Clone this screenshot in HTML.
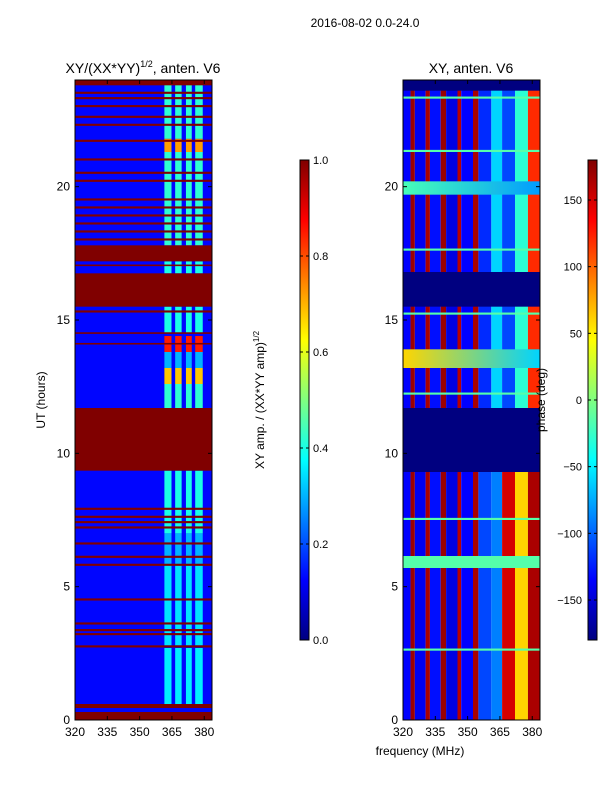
<!DOCTYPE html>
<html><head><meta charset="utf-8">
<style>
html,body{margin:0;padding:0;background:#fff;}
svg{display:block;font-family:"Liberation Sans",sans-serif;}
</style></head>
<body>
<svg id="fig" width="600" height="800" xmlns="http://www.w3.org/2000/svg">
<text x="365" y="27" font-size="12" text-anchor="middle">2016-08-02 0.0-24.0</text>
<g id="left"></g>
<g id="right"></g>
<g id="cb"></g>
<text x="143" y="73" font-size="14" text-anchor="middle">XY/(XX*YY)<tspan dy="-6" font-size="9">1/2</tspan><tspan dy="6">, anten. V6</tspan></text>
<text x="471" y="73" font-size="14" text-anchor="middle">XY, anten. V6</text>
<text transform="translate(45,400) rotate(-90)" font-size="12" text-anchor="middle">UT (hours)</text>
<text transform="translate(264,400) rotate(-90)" font-size="12" text-anchor="middle">XY amp. / (XX*YY amp)<tspan dy="-5" font-size="8">1/2</tspan></text>
<text transform="translate(545,400) rotate(-90)" font-size="12" text-anchor="middle">phase (deg)</text>
<text x="420" y="755" font-size="12" text-anchor="middle">frequency (MHz)</text>
</svg>
<script>
// ---- data ----
const xTicks = [320,335,350,365,380];
const yTicks = [0,5,10,15,20];
const ampTicks = [0.0,0.2,0.4,0.6,0.8,1.0];
const phaseTicks = [-150,-100,-50,0,50,100,150];
// left: red (amp=1) hour bands
const redStart = [0,0.45,2.72,3.18,3.33,3.58,4.48,5.78,6.08,6.58,7.18,7.38,7.58,7.88,9.35,14.08,14.48,15.28,15.5,17.02,17.2,17.98,18.28,18.58,18.88,19.18,19.48,20.18,20.48,20.98,21.68,22.28,22.58,22.98,23.28,23.48,23.8];
const redEnd   = [0.3,0.6,2.8,3.26,3.41,3.66,4.56,5.86,6.16,6.66,7.26,7.46,7.66,7.96,11.7,14.14,14.54,15.36,16.75,17.08,17.8,18.06,18.36,18.66,18.96,19.26,19.56,20.26,20.56,21.06,21.76,22.36,22.66,23.06,23.36,23.56,24];
// left: bright frequency stripes
const stripeLo = [361.5,366.5,371.5,375.8];
const stripeHi = [364.8,369.5,374.2,379.3];
const ampBandStart = [0.6,2.8,5.8,7.0,11.7,12.6,13.2,13.8,14.5,16.75,17.8,21.3,21.8];
const ampBandEnd   = [2.7,5.8,7.0,9.35,12.6,13.2,13.8,14.4,15.5,17.2,21.3,21.8,24];
const ampBandVal   = [0.36,0.35,0.3,0.4,0.42,0.68,0.3,0.85,0.4,0.4,0.42,0.72,0.42];
const ampBase = 0.13;
// right: phase columns
const colLo = [320,323.5,325.5,330.5,332.5,337.5,340,345.3,347,352.5,355,361,366,372,378];
const colHi = [323.5,325.5,330.5,332.5,337.5,340,345.3,347,352.5,355,361,366,372,378,383.6];
const colPhaseHigh = [-135,170,-140,165,-130,170,-145,160,-135,165,-120,-60,-110,-30,120];
const colPhaseLow  = [-135,170,-140,165,-130,170,-145,160,-135,165,-110,-90,150,60,165];
// right: special hour bands (full width)
const navyStart = [9.3,15.5,23.6];
const navyEnd   = [11.7,16.8,24];
const lineHour  = [2.6,5.7,7.5,12.2,15.2,17.6,21.3,23.3];
const lineWidthH= [0.08,0.45,0.08,0.08,0.08,0.08,0.08,0.08];
const gradStart = [13.2,19.7];
const gradEnd   = [13.9,20.2];
const gradLeft  = [60,-20];
const gradRight = [-60,-80];

// ---- axes ----
const L = {x0:75,x1:212}, R = {x0:403,x1:540}, Y0=720, Y1=80;
const fMin=320, fMax=383.6;
function xs(p,f){return p.x0+(f-fMin)*(p.x1-p.x0)/(fMax-fMin);}
function ys(h){return Y0-h*(Y0-Y1)/24;}
function jet(v){v=Math.max(0,Math.min(1,v));
 const c=t=>Math.round(255*Math.max(0,Math.min(1,1.5-Math.abs(t))));
 return `rgb(${c(4*v-3)},${c(4*v-2)},${c(4*v-1)})`;}
function pv(d){return (d+180)/360;}
const NS="http://www.w3.org/2000/svg";
function rect(g,x,y,w,h,fill){const r=document.createElementNS(NS,'rect');
 r.setAttribute('x',x);r.setAttribute('y',y);r.setAttribute('width',w);r.setAttribute('height',h);r.setAttribute('fill',fill);
 
 
 g.appendChild(r);return r;}
function line(g,x1,y1,x2,y2){const l=document.createElementNS(NS,'line');
 l.setAttribute('x1',x1);l.setAttribute('y1',y1);l.setAttribute('x2',x2);l.setAttribute('y2',y2);l.setAttribute('stroke','#000');
 
 
 g.appendChild(l);}
function text(g,x,y,s,anchor,size){const t=document.createElementNS(NS,'text');
 t.setAttribute('x',x);t.setAttribute('y',y);t.setAttribute('font-size',size||'12');t.setAttribute('text-anchor',anchor);t.textContent=s;
 
 
 g.appendChild(t);}
function hrect(g,p,f0,f1,h0,h1,fill){const x=xs(p,f0),x2=xs(p,f1),y=ys(h1),y2=ys(h0);return rect(g,x,y,x2-x,y2-y,fill);}

// left panel
const gl=document.getElementById('left');
hrect(gl,L,fMin,fMax,0,24,jet(ampBase));
for(let i=0;i<ampBandStart.length;i++)for(let j=0;j<stripeLo.length;j++)
 hrect(gl,L,stripeLo[j],stripeHi[j],ampBandStart[i],ampBandEnd[i],jet(ampBandVal[i]));
for(let i=0;i<redStart.length;i++) hrect(gl,L,fMin,fMax,redStart[i],redEnd[i],jet(1));

// right panel
const gr=document.getElementById('right');
for(let j=0;j<colLo.length;j++){
 hrect(gr,R,colLo[j],colHi[j],0,9.3,jet(pv(colPhaseLow[j])));
 hrect(gr,R,colLo[j],colHi[j],9.3,24,jet(pv(colPhaseHigh[j])));
}
for(let i=0;i<navyStart.length;i++) hrect(gr,R,fMin,fMax,navyStart[i],navyEnd[i],jet(0));
for(let i=0;i<gradStart.length;i++){
 const id='gr'+i;const lg=document.createElementNS(NS,'linearGradient');lg.setAttribute('id',id);
 [[0,gradLeft[i]],[1,gradRight[i]]].forEach(([o,d])=>{const s=document.createElementNS(NS,'stop');s.setAttribute('offset',o);s.setAttribute('stop-color',jet(pv(d)));lg.appendChild(s);});
 gr.appendChild(lg);
 hrect(gr,R,fMin,fMax,gradStart[i],gradEnd[i],`url(#${id})`);
}
for(let i=0;i<lineHour.length;i++) hrect(gr,R,fMin,fMax,lineHour[i],lineHour[i]+lineWidthH[i],jet(pv(-15)));

// frames & ticks
[[gl,L],[gr,R]].forEach(([g,p])=>{
 const fr=document.createElementNS(NS,'rect');fr.setAttribute('x',p.x0);fr.setAttribute('y',Y1);fr.setAttribute('width',p.x1-p.x0);fr.setAttribute('height',Y0-Y1);
 fr.setAttribute('fill','none');fr.setAttribute('stroke','#000');
 
 
 g.appendChild(fr);
 xTicks.forEach(t=>{const x=xs(p,t);line(g,x,Y0,x,Y0-4);line(g,x,Y1,x,Y1+4);text(g,x,736,String(t),'middle');});
 yTicks.forEach(t=>{const y=ys(t);line(g,p.x0,y,p.x0+4,y);line(g,p.x1,y,p.x1-4,y);text(g,p.x0-5,y+4,String(t),'end');});
});

// colorbars
const gc=document.getElementById('cb');
function cbar(x,ticks,lo,hi,id,fmt,left){
 const lg=document.createElementNS(NS,'linearGradient');lg.setAttribute('id',id);lg.setAttribute('x1',0);lg.setAttribute('y1',1);lg.setAttribute('x2',0);lg.setAttribute('y2',0);
 for(let k=0;k<=8;k++){const s=document.createElementNS(NS,'stop');s.setAttribute('offset',k/8);s.setAttribute('stop-color',jet(k/8));lg.appendChild(s);}
 gc.appendChild(lg);
 const r=rect(gc,x,160,9,480,`url(#${id})`);r.setAttribute('stroke','#000');
 
 ticks.forEach(t=>{const y=640-(t-lo)/(hi-lo)*480;line(gc,x,y,x+3,y);line(gc,x+9,y,x+6,y);
  const tt=document.createElementNS(NS,'text');tt.setAttribute('x',left?x-6:x+13);tt.setAttribute('y',y+4);tt.setAttribute('font-size','11');
  if(left)tt.setAttribute('text-anchor','end');
  tt.textContent=fmt(t);
  
  
  gc.appendChild(tt);});
}
cbar(300,ampTicks,0,1,'cbA',t=>t.toFixed(1),false);
cbar(588,phaseTicks,-180,180,'cbP',t=>t<0?'\u2212'+(-t):String(t),true);
</script>
</body></html>
